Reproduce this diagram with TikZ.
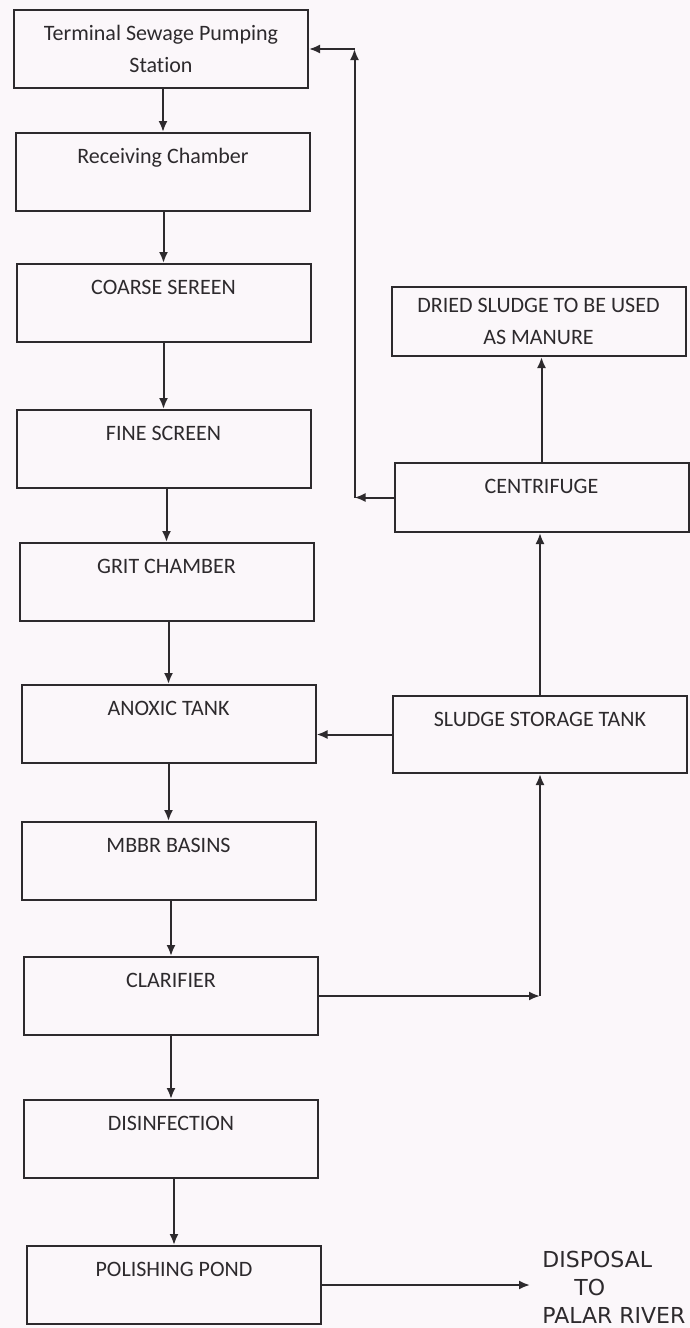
\documentclass[tikz,border=0pt]{standalone}
\usepackage{fontspec}
\setmainfont[Ligatures=NoCommon]{Carlito}
\newfontfamily\handfont{DejaVu Sans}
\usepackage{xcolor}
\usetikzlibrary{arrows.meta, positioning}
\definecolor{ink}{RGB}{45,42,45}
\definecolor{paper}{RGB}{251,247,250}

\begin{document}
\begin{tikzpicture}[x=0.5pt,y=-0.5pt,>={Latex[length=5.5pt,width=4.5pt]},
 every node/.style={font=\fontsize{11}{16}\selectfont,text=ink},
 stage/.style={draw=ink,line width=1pt,minimum width=147pt,inner sep=0pt,
   text height=15pt,text depth=24pt},
 stagetwo/.style={draw=ink,line width=1pt,minimum width=147pt,minimum height=39pt,
   inner sep=0pt,align=center},
 flow/.style={->,draw=ink,line width=1pt},
 note/.style={font=\handfont\fontsize{11}{14}\selectfont,align=left,inner sep=0pt}]
 \fill[paper] (0,0) rectangle (690,1328);
 \useasboundingbox (0,0) rectangle (690,1328);
 % main treatment line
 \node[stagetwo] (tsp) at (161,49) {Terminal Sewage Pumping\\Station};
 \node[stage,below=21.5pt of tsp,xshift=1pt] (rc) {Receiving Chamber};
 \node[stage,below=25.5pt of rc,xshift=.25pt] (cs) {COARSE SEREEN};
 \node[stage,below=33pt of cs] (fs) {FINE SCREEN};
 \node[stage,below=26.5pt of fs,xshift=1.5pt] (gc) {GRIT CHAMBER};
 \node[stage,below=31pt of gc,xshift=1pt] (an) {ANOXIC TANK};
 \node[stage,below=28.5pt of an] (mb) {MBBR BASINS};
 \node[stage,below=27.5pt of mb,xshift=1.25pt] (cl) {CLARIFIER};
 \node[stage,below=31.5pt of cl] (di) {DISINFECTION};
 \node[stage,below=33pt of di,xshift=1.5pt] (pp) {POLISHING POND};
 % sludge line
 \node[stagetwo,minimum height=34.5pt] (ds) at (538.5,321.5)
   {DRIED SLUDGE TO BE USED\\AS MANURE};
 \node[stage,text depth=19.5pt,below=52.5pt of ds,xshift=1.5pt] (cf) {CENTRIFUGE};
 \node[stage,text depth=23.5pt,below=81pt of cf,xshift=-.75pt] (sst) {SLUDGE STORAGE TANK};
 \foreach \a/\b in {tsp/rc,rc/cs,cs/fs,fs/gc,gc/an,an/mb,mb/cl,cl/di,di/pp}
   \draw[flow] (\b.north |- \a.south) -- (\b.north);
 % centrate back to pumping station
 \coordinate[left=19.5pt of cf.west] (fbl);
 \coordinate (fbt) at (fbl |- tsp.east);
 \draw[flow] (cf.west) -- (fbl);
 \draw[flow] (fbl) -- (fbt);
 \draw[flow] (fbt) -- (tsp.east);
 \draw[flow] (cf.north) -- (cf.north |- ds.south);
 \draw[flow] (sst.north) -- (sst.north |- cf.south);
 \draw[flow] (sst.west) -- (sst.west -| an.east);
 \coordinate (clr) at (cl.east -| sst.south);
 \draw[flow] (cl.east) -- (clr);
 \draw[flow] (clr) -- (sst.south);
 \coordinate[right=104pt of pp.east] (dsp);
 \draw[flow] (pp.east) -- (dsp);
 \node[note,right=6pt of dsp,yshift=-1pt] (river)
   {DISPOSAL\\\hspace{16pt}TO\\PALAR RIVER};
\end{tikzpicture}
\end{document}
